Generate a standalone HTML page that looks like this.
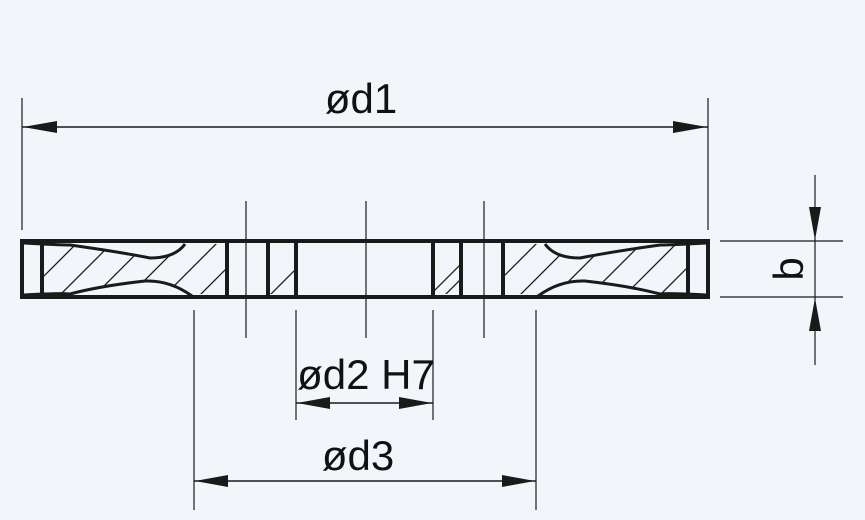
<!DOCTYPE html>
<html><head><style>html,body{margin:0;padding:0;background:#f2f6fb}</style></head>
<body>
<svg width="865" height="515" viewBox="0 0 865 515" xmlns="http://www.w3.org/2000/svg">
<defs>
<clipPath id="cl"><path d="M43,244 L60,244 Q120,252 150,258 Q175,258 185,244 L226,244 L226,294 L190,294 Q170,280 145,281 Q100,286 60,294 L43,294 Z"/></clipPath>
<clipPath id="cr"><path d="M504,244 L545,244 Q555,258 580,258 Q610,252 670,244 L687,244 L687,294 L670,294 Q630,286 585,281 Q560,280 540,294 L504,294 Z"/></clipPath>
<clipPath id="cm1"><rect x="269" y="244" width="26" height="50"/></clipPath>
<clipPath id="cm2"><rect x="434" y="244" width="26" height="50"/></clipPath>
</defs>
<g stroke="#1a1a1a" fill="none">
<g stroke-width="1.2">
<line x1="22" y1="98" x2="22" y2="230"/>
<line x1="708" y1="98" x2="708" y2="230"/>
<line x1="246" y1="201" x2="246" y2="338"/>
<line x1="366" y1="201" x2="366" y2="338"/>
<line x1="484" y1="201" x2="484" y2="338"/>
<line x1="194" y1="310" x2="194" y2="510"/>
<line x1="536" y1="310" x2="536" y2="510"/>
<line x1="296" y1="310" x2="296" y2="420"/>
<line x1="433" y1="310" x2="433" y2="420"/>
<line x1="720" y1="241" x2="843" y2="241"/>
<line x1="720" y1="297" x2="843" y2="297"/>
<line x1="815" y1="175" x2="815" y2="365"/>
<line x1="22" y1="127" x2="708" y2="127" stroke-width="1.5"/>
<line x1="296" y1="403" x2="433" y2="403" stroke-width="1.5"/>
<line x1="194" y1="481" x2="536" y2="481" stroke-width="1.5"/>
</g>
<g stroke-width="1.3">
<g clip-path="url(#cl)">
<line x1="20" y1="300" x2="80" y2="240"/><line x1="55" y1="300" x2="115" y2="240"/><line x1="90" y1="300" x2="150" y2="240"/><line x1="125" y1="300" x2="185" y2="240"/><line x1="160" y1="300" x2="220" y2="240"/><line x1="195" y1="300" x2="255" y2="240"/>
</g>
<g clip-path="url(#cr)">
<line x1="480" y1="300" x2="540" y2="240"/><line x1="515" y1="300" x2="575" y2="240"/><line x1="550" y1="300" x2="610" y2="240"/><line x1="585" y1="300" x2="645" y2="240"/><line x1="620" y1="300" x2="680" y2="240"/><line x1="655" y1="300" x2="715" y2="240"/>
</g>
<g clip-path="url(#cm1)"><line x1="260" y1="305" x2="320" y2="245"/></g>
<g clip-path="url(#cm2)"><line x1="415" y1="310" x2="475" y2="250"/><line x1="440" y1="300" x2="500" y2="240"/></g>
</g>
<g stroke-width="4">
<rect x="22" y="241" width="686" height="56"/>
<line x1="42" y1="241" x2="42" y2="297"/>
<line x1="227" y1="241" x2="227" y2="297"/>
<line x1="268" y1="241" x2="268" y2="297"/>
<line x1="296" y1="241" x2="296" y2="297"/>
<line x1="433" y1="241" x2="433" y2="297"/>
<line x1="461" y1="241" x2="461" y2="297"/>
<line x1="503" y1="241" x2="503" y2="297"/>
<line x1="688" y1="241" x2="688" y2="297"/>
</g>
<g stroke-width="3">
<path d="M24,243 Q60,245 70,245 Q120,252 150,258 Q175,258 185,244"/>
<path d="M24,295 Q60,293 70,294 Q100,286 145,281 Q170,280 192,296"/>
<path d="M706,243 Q670,245 660,245 Q610,252 580,258 Q555,258 545,244"/>
<path d="M706,295 Q670,293 660,294 Q630,286 585,281 Q560,280 538,296"/>
</g>
</g>
<g fill="#1a1a1a">
<polygon points="23,127 57,121 57,133"/>
<polygon points="707,127 673,121 673,133"/>
<polygon points="297,403 330,397 330,409"/>
<polygon points="432,403 399,397 399,409"/>
<polygon points="195,481 228,475 228,487"/>
<polygon points="535,481 502,475 502,487"/>
<polygon points="815,240 809,207 821,207"/>
<polygon points="815,298 809,331 821,331"/>
</g>
<g font-family="Liberation Sans, sans-serif" font-size="42" fill="#111">
<text x="361" y="113" text-anchor="middle">ød1</text>
<text x="366" y="389" text-anchor="middle">ød2 H7</text>
<text x="358" y="470" text-anchor="middle">ød3</text>
<text transform="translate(803,269) rotate(-90)" text-anchor="middle">b</text>
</g>
</svg>
</body></html>
